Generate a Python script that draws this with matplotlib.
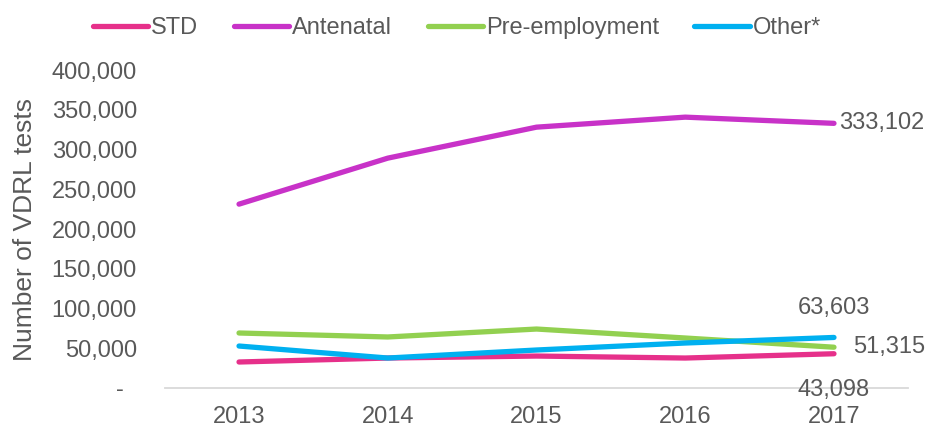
import matplotlib
matplotlib.use("Agg")
import matplotlib.pyplot as plt
from matplotlib.ticker import FuncFormatter

years = ["2013", "2014", "2015", "2016", "2017"]
std = [32700, 37700, 40200, 37700, 43098]
antenatal = [231400, 289300, 328300, 340900, 333102]
pre_employment = [69200, 64200, 74200, 62900, 51315]
other = [52800, 37700, 47800, 56600, 63603]

TXT = "#595959"
plt.rcParams['font.family'] = ['Liberation Sans', 'DejaVu Sans']


def fmt(v, pos):
    return "-  " if v == 0 else "{:,.0f}".format(v)


def main():
    fig = plt.figure(figsize=(9.25, 4.28), dpi=100)
    ax = fig.add_axes([0.178, 0.0935, 0.804, 0.7425])
    x = range(len(years))

    series = [("STD", std, "#E6308A"),
              ("Antenatal", antenatal, "#C832C8"),
              ("Pre-employment", pre_employment, "#92D050"),
              ("Other*", other, "#00B0F0")]
    for name, vals, col in series:
        ax.plot(x, vals, color=col, lw=3.8, solid_capstyle="round", label=name)

    ax.set_xlim(-0.5, len(years) - 0.5)
    ax.set_ylim(0, 400000)
    ax.set_yticks(range(0, 400001, 50000))
    ax.yaxis.set_major_formatter(FuncFormatter(fmt))
    ax.set_xticks(list(x))
    ax.set_xticklabels(years)
    ax.tick_params(length=0, labelsize=17, colors=TXT)
    ax.tick_params(axis="x", pad=13)
    ax.tick_params(axis="y", pad=20)
    for s in ["top", "right", "left"]:
        ax.spines[s].set_visible(False)
    ax.spines["bottom"].set_color("#D9D9D9")
    ax.spines["bottom"].set_linewidth(1.3)
    ax.set_ylabel("Number of VDRL tests", fontsize=19, color=TXT)
    ax.yaxis.set_label_coords(-0.172, 0.5)

    last = len(years) - 1
    kw = dict(fontsize=17, color=TXT)
    ax.annotate("{:,}".format(antenatal[-1]), (last, antenatal[-1]),
                xytext=(4, 0), textcoords="offset points", va="center", ha="left", **kw)
    ax.annotate("{:,}".format(other[-1]), (last, other[-1]),
                xytext=(0, 13), textcoords="offset points", va="bottom", ha="center", **kw)
    ax.annotate("{:,}".format(pre_employment[-1]), (last, pre_employment[-1]),
                xytext=(14, 0), textcoords="offset points", va="center", ha="left", **kw)
    ax.annotate("{:,}".format(std[-1]), (last, std[-1]),
                xytext=(0, -18), textcoords="offset points", va="top", ha="center", **kw)

    leg = fig.legend(loc="center", bbox_to_anchor=(0.494, 0.935), ncol=4, frameon=False,
                     fontsize=17, handlelength=2.35, handletextpad=0.12,
                     columnspacing=1.5)
    for t in leg.get_texts():
        t.set_color(TXT)

    fig.savefig("out.png", dpi=100)


if __name__ == "__main__":
    main()
